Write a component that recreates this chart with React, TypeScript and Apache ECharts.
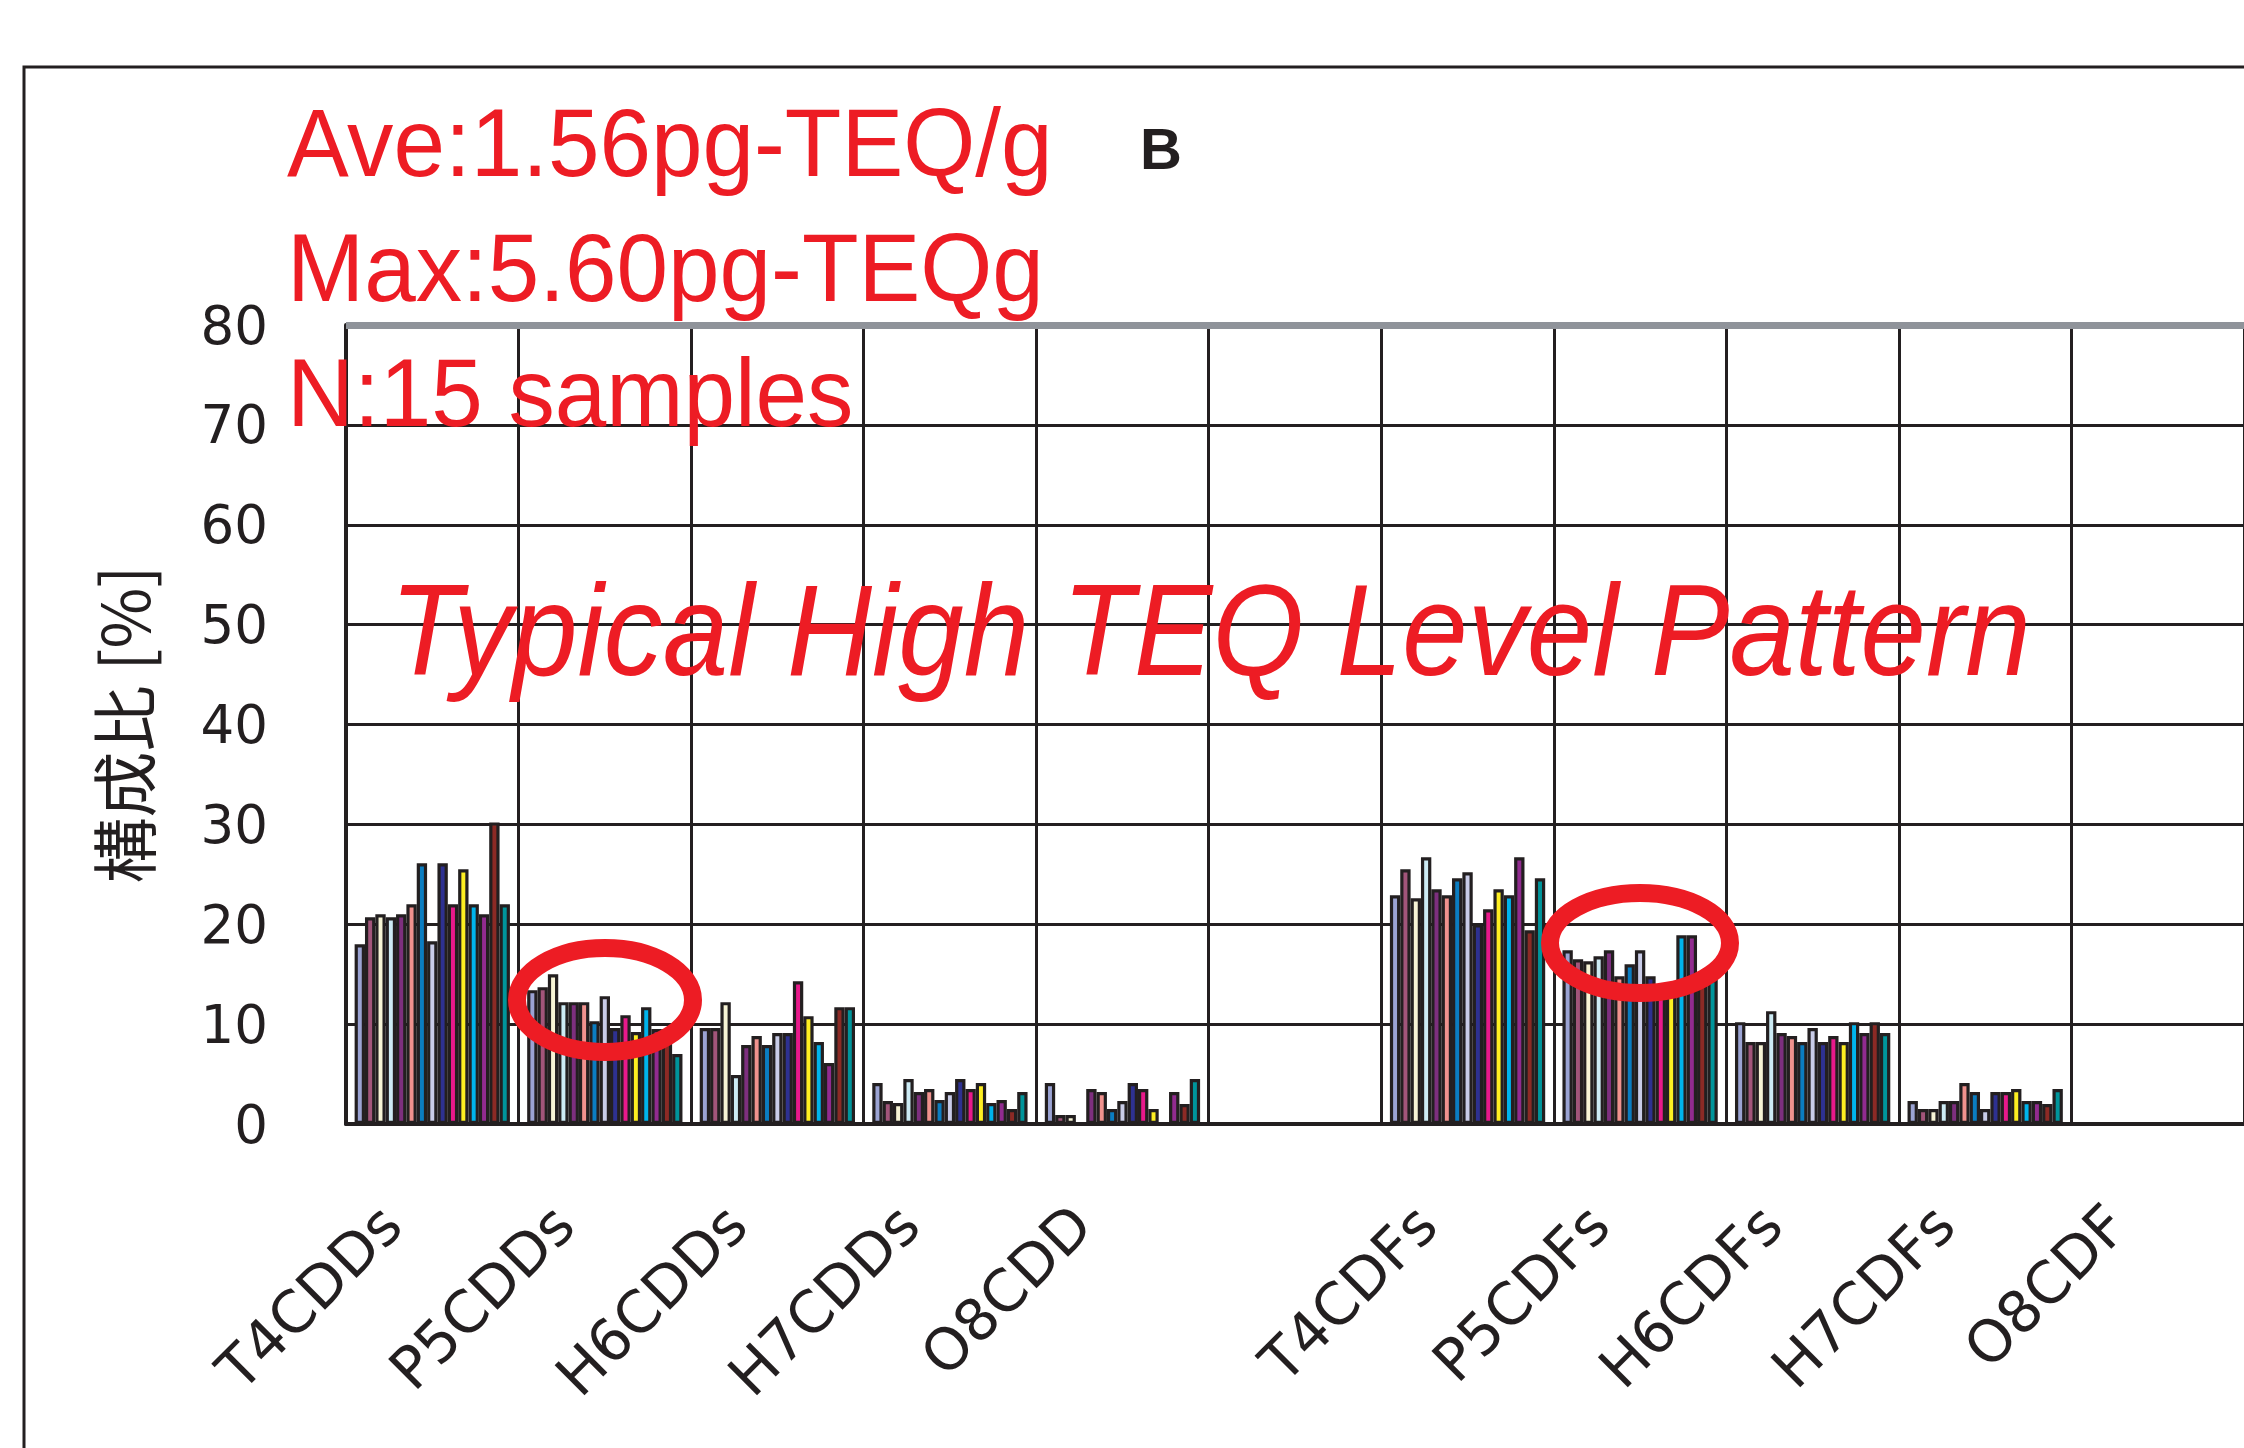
import React, { useEffect, useRef } from "react";
import * as echarts from "echarts";

// ---- data ----
const categories = ["T4CDDs", "P5CDDs", "H6CDDs", "H7CDDs", "O8CDD", "", "T4CDFs", "P5CDFs", "H6CDFs", "H7CDFs", "O8CDF"];

const sampleNames = [
  "Sample 1", "Sample 2", "Sample 3", "Sample 4", "Sample 5",
  "Sample 6", "Sample 7", "Sample 8", "Sample 9", "Sample 10",
  "Sample 11", "Sample 12", "Sample 13", "Sample 14", "Sample 15",
];

const sampleColors = [
  "#9ba3d3", "#a2557a", "#f7f4d5", "#cdebf4", "#7d2f7e",
  "#f0928e", "#0b7dc1", "#c9cce8", "#2e3191", "#e8198b",
  "#fdee21", "#00b4ec", "#912b8f", "#8c2a25", "#00959b",
];

// composition ratio [%] per homologue group, one value per sample (15 samples)
const T4CDDs = [18.0, 20.7, 21.0, 20.7, 21.0, 22.0, 26.1, 18.3, 26.1, 22.0, 25.5, 22.0, 21.0, 30.2, 22.0];
const P5CDDs = [13.4, 13.7, 15.0, 12.2, 12.2, 12.2, 10.3, 12.8, 9.6, 10.9, 9.2, 11.7, 9.5, 9.5, 7.0];
const H6CDDs = [9.6, 9.6, 12.2, 4.9, 7.9, 8.8, 7.9, 9.1, 9.1, 14.3, 10.8, 8.2, 6.1, 11.7, 11.7];
const H7CDDs = [4.1, 2.3, 2.1, 4.5, 3.2, 3.5, 2.4, 3.2, 4.5, 3.5, 4.1, 2.1, 2.4, 1.5, 3.2];
const O8CDD = [4.1, 0.9, 0.9, null, 3.5, 3.2, 1.5, 2.3, 4.1, 3.5, 1.5, null, 3.2, 2.0, 4.5];
const blankGroup = [null, null, null, null, null, null, null, null, null, null, null, null, null, null, null];
const T4CDFs = [22.9, 25.5, 22.6, 26.7, 23.5, 22.9, 24.6, 25.2, 20.0, 21.5, 23.5, 22.9, 26.7, 19.4, 24.6];
const P5CDFs = [17.4, 16.5, 16.3, 16.8, 17.4, 14.8, 16.0, 17.4, 14.8, 13.5, 13.0, 18.9, 18.9, 14.5, 14.5];
const H6CDFs = [10.2, 8.2, 8.2, 11.3, 9.1, 8.8, 8.2, 9.6, 8.2, 8.8, 8.2, 10.2, 9.1, 10.2, 9.1];
const H7CDFs = [2.3, 1.5, 1.5, 2.3, 2.3, 4.1, 3.2, 1.5, 3.2, 3.2, 3.5, 2.3, 2.3, 2.0, 3.5];
const O8CDF = [null, null, null, null, null, null, null, null, null, null, null, null, null, null, null];

const groups = [T4CDDs, P5CDDs, H6CDDs, H7CDDs, O8CDD, blankGroup, T4CDFs, P5CDFs, H6CDFs, H7CDFs, O8CDF];

const yMin = 0;
const yMax = 80;
const yInterval = 10;

const annotationLines = ["Ave:1.56pg-TEQ/g", "Max:5.60pg-TEQg", "N:15 samples"];
const panelLetter = "B";
const patternTitle = "Typical High TEQ Level Pattern";
const yAxisName = "構成比 [%]";

const RED = "#ed1c24";
const INK = "#231f20";

export default function App() {
  const ref = useRef<HTMLDivElement>(null);

  useEffect(() => {
    if (!ref.current) return;
    const chart = echarts.init(ref.current, undefined, { renderer: "svg" });

    const series: any[] = sampleNames.map((name, s) => ({
      type: "bar",
      name,
      data: groups.map((g) => g[s]),
      barGap: "0%",
      barCategoryGap: "10%",
      itemStyle: { color: sampleColors[s], borderColor: INK, borderWidth: 3.2 },
      z: 3,
    }));
    series[0].markLine = {
      silent: true,
      symbol: "none",
      label: { show: false },
      lineStyle: { color: "#8f939a", width: 7, type: "solid" },
      data: [{ yAxis: yMax }],
      z: 4,
    };

    const annotationGraphics = annotationLines.map((t, i) => ({
      type: "text",
      x: 287,
      y: 143 + i * 125,
      scaleX: 0.965,
      z: 100,
      style: {
        text: t,
        fill: RED,
        fontFamily: "Liberation Sans",
        fontSize: 96,
        textAlign: "left",
        textVerticalAlign: "middle",
      },
    }));

    chart.setOption({
      animation: false,
      backgroundColor: "#ffffff",
      grid: { left: 346, right: 0, top: 325, bottom: 324, containLabel: false },
      xAxis: {
        type: "category",
        data: categories,
        axisTick: { show: false },
        axisLine: { show: true, lineStyle: { color: INK, width: 4 } },
        splitLine: { show: true, lineStyle: { color: INK, width: 3 } },
        axisLabel: {
          interval: 0,
          rotate: 45,
          margin: 50,
          padding: [0, 58, 0, 0],
          fontFamily: "DejaVu Sans",
          fontSize: 58,
          color: INK,
        },
      },
      yAxis: {
        type: "value",
        min: yMin,
        max: yMax,
        interval: yInterval,
        name: yAxisName,
        nameLocation: "middle",
        nameRotate: 90,
        nameGap: 192,
        nameTextStyle: { fontFamily: "Noto Sans CJK JP", fontSize: 66, color: INK },
        axisLine: { show: true, lineStyle: { color: INK, width: 4 } },
        axisTick: { show: false },
        splitLine: { show: true, lineStyle: { color: INK, width: 3 } },
        axisLabel: {
          margin: 78,
          padding: [20, 0, 0, 0],
          fontFamily: "DejaVu Sans",
          fontSize: 53,
          color: INK,
        },
      },
      series,
      graphic: [
        {
          type: "rect",
          shape: { x: 24, y: 67, width: 2600, height: 1700 },
          style: { fill: "none", stroke: INK, lineWidth: 3 },
          z: 1,
        },
        ...annotationGraphics,
        {
          type: "text",
          x: 1140,
          y: 148,
          z: 100,
          style: {
            text: panelLetter,
            fill: INK,
            fontFamily: "Liberation Sans",
            fontWeight: "bold",
            fontSize: 58,
            textAlign: "left",
            textVerticalAlign: "middle",
          },
        },
        {
          type: "text",
          x: 390,
          y: 630,
          scaleX: 0.906,
          z: 100,
          style: {
            text: patternTitle,
            fill: RED,
            fontFamily: "Liberation Sans",
            fontStyle: "italic",
            fontSize: 130,
            textAlign: "left",
            textVerticalAlign: "middle",
          },
        },
        {
          type: "ellipse",
          shape: { cx: 605, cy: 1000, rx: 88, ry: 52 },
          style: { fill: "none", stroke: RED, lineWidth: 18 },
          z: 100,
        },
        {
          type: "ellipse",
          shape: { cx: 1640, cy: 943, rx: 90, ry: 50 },
          style: { fill: "none", stroke: RED, lineWidth: 18 },
          z: 100,
        },
      ],
    });

    return () => chart.dispose();
  }, []);

  return (
    <div
      ref={ref}
      style={{ position: "absolute", left: 0, top: 0, width: 2244, height: 1448 }}
    />
  );
}
